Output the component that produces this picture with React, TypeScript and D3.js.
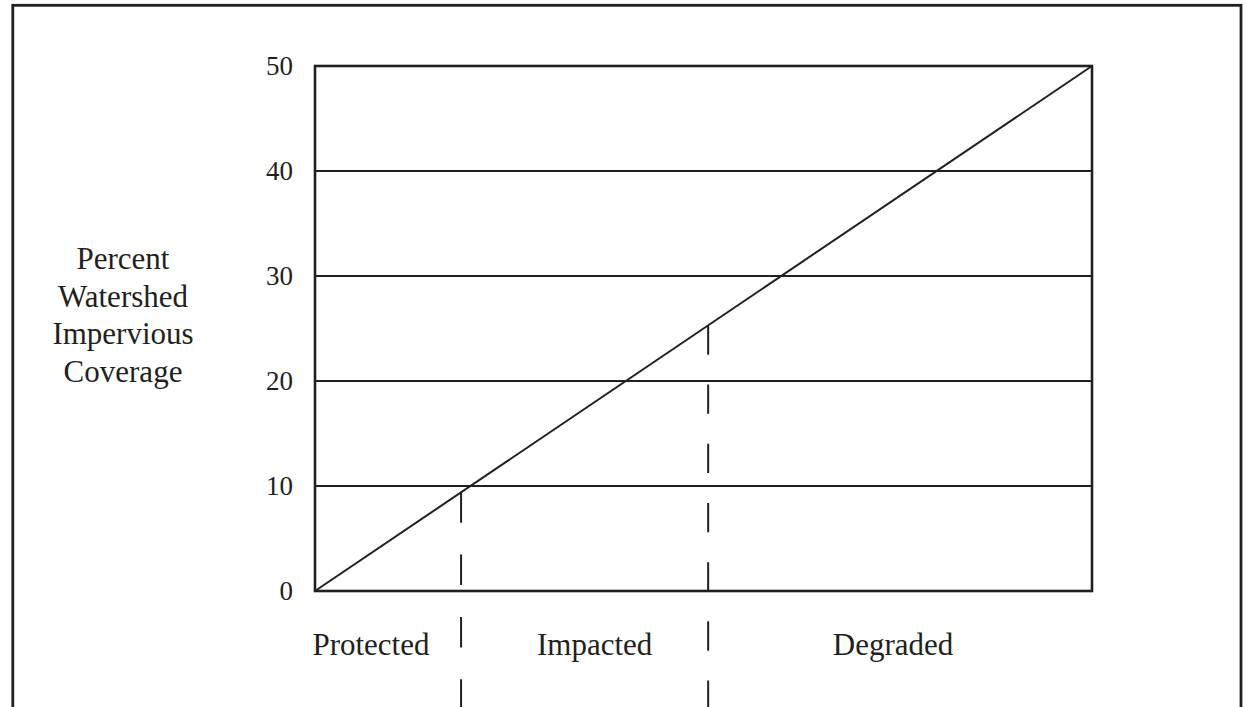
import React from "react";
import * as d3 from "d3";

// Y axis ticks (percent impervious coverage)
const yTicks = [0, 10, 20, 30, 40, 50];
// The diagonal relationship line (x in same units as y)
const lineX = [0, 50];
const lineY = [0, 50];
// Zone boundaries (on the x axis in the same units)
const boundaries = [9.4, 25.3];
// Zone labels and their anchor points along the x axis
const zoneNames = ["Protected", "Impacted", "Degraded"];
const zoneLabelAt = [3.6, 18.0, 37.2];
// Y axis title lines
const yTitle = ["Percent", "Watershed", "Impervious", "Coverage"];

const W = 1247;
const H = 707;
const INK = "#231f20";
const FONT = "'Liberation Serif', 'Times New Roman', serif";

export default function App() {
  const x = d3.scaleLinear().domain([0, 50]).range([315, 1092]);
  const y = d3.scaleLinear().domain([0, 50]).range([591, 66]);
  const line = d3
    .line<number>()
    .x((_, i) => x(lineX[i]))
    .y((d) => y(d));
  const dashes = ["30.5 31.8", "29.3 29.9"];

  return (
    <svg
      width={W}
      height={H}
      style={{ position: "absolute", left: 0, top: 0, background: "#fff" }}
    >
      {/* outer frame */}
      <rect
        x={12.8}
        y={5.3}
        width={1241 - 12.8}
        height={H + 20}
        fill="none"
        stroke={INK}
        strokeWidth={2.8}
      />
      {/* gridlines */}
      {yTicks
        .filter((t) => t > 0 && t < 50)
        .map((t) => (
          <line
            key={"g" + t}
            x1={x(0)}
            x2={x(50)}
            y1={y(t)}
            y2={y(t)}
            stroke={INK}
            strokeWidth={2}
          />
        ))}
      {/* plot frame */}
      <rect
        x={x(0)}
        y={y(50)}
        width={x(50) - x(0)}
        height={y(0) - y(50)}
        fill="none"
        stroke={INK}
        strokeWidth={2.6}
      />
      {/* diagonal */}
      <path d={line(lineY) || ""} fill="none" stroke={INK} strokeWidth={2} />
      {/* dashed boundaries */}
      {boundaries.map((b, i) => (
        <line
          key={"b" + i}
          x1={x(b)}
          x2={x(b)}
          y1={y(b)}
          y2={H + 10}
          stroke={INK}
          strokeWidth={2}
          strokeDasharray={dashes[i]}
        />
      ))}
      {/* y tick labels */}
      {yTicks.map((t) => (
        <text
          key={"t" + t}
          x={293}
          y={y(t)}
          dy={9}
          textAnchor="end"
          fontFamily={FONT}
          fontSize={27}
          fill={INK}
        >
          {t}
        </text>
      ))}
      {/* y title */}
      {yTitle.map((s, i) => (
        <text
          key={s}
          x={123}
          y={269 + i * 37.7}
          textAnchor="middle"
          fontFamily={FONT}
          fontSize={31}
          fill={INK}
        >
          {s}
        </text>
      ))}
      {/* zone labels */}
      {zoneNames.map((s, i) => (
        <text
          key={s}
          x={x(zoneLabelAt[i])}
          y={655}
          textAnchor="middle"
          fontFamily={FONT}
          fontSize={31}
          fill={INK}
        >
          {s}
        </text>
      ))}
    </svg>
  );
}
